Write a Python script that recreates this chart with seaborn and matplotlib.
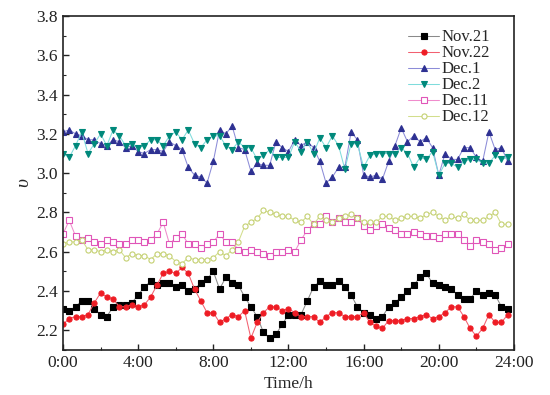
import numpy as np
import pandas as pd
import matplotlib
matplotlib.use('Agg')
import matplotlib.pyplot as plt
import seaborn as sns

# time of day in hours, one sample every 20 minutes
hours = np.arange(72) / 3

nov21 = [2.31, 2.30, 2.32, 2.35, 2.35, 2.31, 2.28, 2.27, 2.32, 2.33, 2.33, 2.34,
         2.38, 2.42, 2.45, 2.43, 2.44, 2.44, 2.42, 2.43, 2.40, 2.41, 2.44, 2.46,
         2.50, 2.41, 2.47, 2.44, 2.43, 2.37, 2.32, 2.27, 2.19, 2.16, 2.18, 2.23,
         2.28, 2.28, 2.28, 2.35, 2.42, 2.45, 2.43, 2.43, 2.45, 2.42, 2.38, 2.32,
         2.29, 2.28, 2.26, 2.27, 2.32, 2.34, 2.37, 2.40, 2.43, 2.47, 2.49, 2.44,
         2.43, 2.42, 2.41, 2.38, 2.36, 2.36, 2.40, 2.38, 2.39, 2.38, 2.32, 2.31]
nov22 = [2.23, 2.26, 2.27, 2.27, 2.28, 2.34, 2.39, 2.37, 2.36, 2.32, 2.32, 2.33,
         2.32, 2.33, 2.37, 2.43, 2.49, 2.50, 2.49, 2.52, 2.49, 2.41, 2.35, 2.29,
         2.29, 2.24, 2.26, 2.28, 2.27, 2.30, 2.16, 2.24, 2.29, 2.32, 2.32, 2.30,
         2.31, 2.29, 2.27, 2.27, 2.27, 2.24, 2.27, 2.29, 2.29, 2.27, 2.27, 2.27,
         2.29, 2.24, 2.22, 2.21, 2.25, 2.25, 2.25, 2.26, 2.26, 2.27, 2.28, 2.26,
         2.27, 2.29, 2.32, 2.32, 2.27, 2.21, 2.17, 2.21, 2.28, 2.24, 2.24, 2.28]
dec1 = [3.21, 3.22, 3.20, 3.19, 3.17, 3.17, 3.15, 3.14, 3.17, 3.16, 3.13, 3.14,
        3.11, 3.10, 3.12, 3.12, 3.11, 3.16, 3.14, 3.12, 3.03, 2.99, 2.98, 2.95,
        3.06, 3.22, 3.20, 3.24, 3.13, 3.12, 3.01, 3.05, 3.04, 3.04, 3.16, 3.13,
        3.11, 3.17, 3.14, 3.16, 3.13, 3.06, 2.95, 2.98, 3.03, 3.03, 3.21, 3.17,
        2.99, 2.98, 2.99, 2.97, 3.06, 3.14, 3.23, 3.16, 3.19, 3.16, 3.18, 3.13,
        2.99, 3.10, 3.07, 3.07, 3.13, 3.13, 3.08, 3.06, 3.21, 3.12, 3.13, 3.06]
dec2 = [3.10, 3.08, 3.14, 3.21, 3.10, 3.15, 3.20, 3.14, 3.22, 3.19, 3.14, 3.15,
        3.13, 3.14, 3.17, 3.17, 3.14, 3.19, 3.21, 3.17, 3.22, 3.15, 3.13, 3.17,
        3.19, 3.19, 3.14, 3.12, 3.16, 3.13, 3.13, 3.07, 3.09, 3.12, 3.08, 3.08,
        3.08, 3.16, 3.11, 3.16, 3.10, 3.18, 3.13, 3.19, 3.14, 3.02, 3.15, 3.15,
        3.03, 3.09, 3.10, 3.10, 3.10, 3.10, 3.13, 3.10, 3.03, 3.08, 3.07, 3.11,
        2.99, 3.05, 3.05, 3.03, 3.06, 3.07, 3.07, 3.05, 3.05, 3.09, 3.07, 3.08]
dec11 = [2.69, 2.76, 2.68, 2.66, 2.67, 2.65, 2.64, 2.66, 2.65, 2.64, 2.64, 2.66,
         2.66, 2.65, 2.66, 2.69, 2.75, 2.64, 2.67, 2.69, 2.64, 2.64, 2.62, 2.64,
         2.65, 2.69, 2.65, 2.65, 2.61, 2.60, 2.61, 2.60, 2.59, 2.58, 2.60, 2.60,
         2.61, 2.60, 2.66, 2.71, 2.74, 2.74, 2.78, 2.75, 2.77, 2.75, 2.75, 2.77,
         2.73, 2.71, 2.73, 2.74, 2.72, 2.71, 2.69, 2.69, 2.70, 2.69, 2.68, 2.68,
         2.67, 2.69, 2.69, 2.69, 2.66, 2.63, 2.66, 2.65, 2.64, 2.61, 2.62, 2.64]
dec12 = [2.64, 2.65, 2.65, 2.66, 2.61, 2.61, 2.60, 2.61, 2.60, 2.61, 2.57, 2.59,
         2.58, 2.58, 2.56, 2.59, 2.59, 2.58, 2.55, 2.54, 2.57, 2.56, 2.56, 2.56,
         2.57, 2.60, 2.58, 2.61, 2.65, 2.73, 2.75, 2.77, 2.81, 2.80, 2.79, 2.78,
         2.78, 2.76, 2.75, 2.78, 2.74, 2.78, 2.76, 2.75, 2.77, 2.78, 2.79, 2.77,
         2.75, 2.75, 2.75, 2.78, 2.78, 2.76, 2.77, 2.78, 2.78, 2.77, 2.79, 2.80,
         2.78, 2.76, 2.78, 2.77, 2.79, 2.76, 2.76, 2.76, 2.78, 2.80, 2.74, 2.74]

labels = ['Nov.21', 'Nov.22', 'Dec.1', 'Dec.2', 'Dec.11', 'Dec.12']
series = [nov21, nov22, dec1, dec2, dec11, dec12]
x_ticks = [0, 4, 8, 12, 16, 20, 24]
x_ticklabels = ['0:00', '4:00', '8:00', '12:00', '16:00', '20:00', '24:00']

# (line colour, marker, marker edge, marker face)
styles = [
    ('#8a8a8a', 's', '#000000', '#000000'),
    ('#f26070', 'o', '#ee1c24', '#ee1c24'),
    ('#8c8cd8', '^', '#2e3192', '#2e3192'),
    ('#7fdcdc', 'v', '#00897b', '#00897b'),
    ('#f08ccc', 's', '#e055b8', 'white'),
    ('#d2de8c', 'o', '#c4d070', 'white'),
]

sns.set_style('ticks')
plt.rcParams['font.family'] = ['Liberation Serif', 'DejaVu Serif']

fig = plt.figure(figsize=(5.5, 3.95), dpi=100)
ax = fig.add_axes([0.1145, 0.114, 0.82, 0.8455])

for lab, vals, (lc, mk, me, mf) in zip(labels, series, styles):
    df = pd.DataFrame({'hour': hours, 'v': vals})
    sns.lineplot(data=df, x='hour', y='v', ax=ax, color=lc, linewidth=0.75,
                 marker=mk, markersize=3.7, markeredgecolor=me,
                 markerfacecolor=mf, markeredgewidth=0.8, label=lab)

ax.set_xlim(0, 24)
ax.set_ylim(2.1, 3.8)
ax.set_xticks(x_ticks)
ax.set_xticklabels(x_ticklabels)
ax.set_xticks(np.arange(0, 25, 2), minor=True)
ax.set_yticks(np.arange(2.2, 3.81, 0.2))
ax.set_yticklabels([f'{v:.1f}' for v in np.arange(2.2, 3.81, 0.2)])
ax.set_yticks(np.arange(2.1, 3.81, 0.1), minor=True)
ax.tick_params(axis='both', which='major', direction='in', length=4,
               width=1, labelsize=12.5, colors='#222222')
ax.tick_params(axis='both', which='minor', direction='in', length=2, width=0.8)
for sp in ax.spines.values():
    sp.set_linewidth(1.2)
    sp.set_color('#222222')

ax.set_xlabel('Time/h', fontsize=12.5, labelpad=4)
ax.set_ylabel('υ', fontsize=14, style='italic', labelpad=3)

ax.legend(loc='upper right', bbox_to_anchor=(0.97, 0.99), frameon=False,
          fontsize=12, labelspacing=0.0, handlelength=1.9,
          handletextpad=0.15, borderpad=0.1)

fig.savefig('out.png', dpi=100)
plt.close(fig)
